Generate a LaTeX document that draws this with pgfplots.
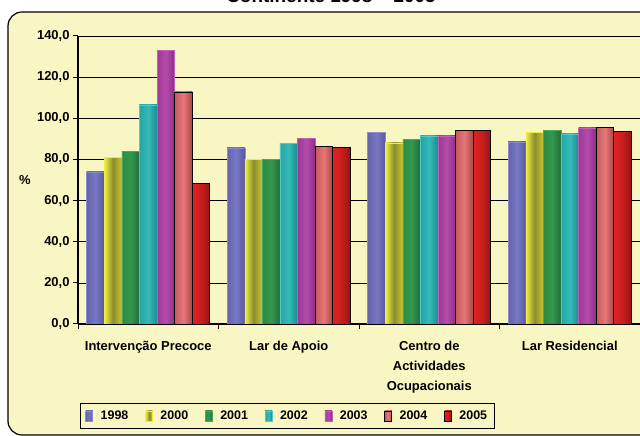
\documentclass[border=0pt]{standalone}
\usepackage{pgfplots}
\pgfplotsset{compat=1.18}
\usepackage{fontspec}
\setmainfont{Liberation Sans}
\definecolor{cream}{HTML}{F8F6C2}
\definecolor{aL}{HTML}{6262AE}\definecolor{aM}{HTML}{7878C2}\definecolor{aR}{HTML}{5858A2}\definecolor{aD}{HTML}{8A8ACC}
\definecolor{bL}{HTML}{F2F23A}\definecolor{bM}{HTML}{8C8C32}\definecolor{bR}{HTML}{C8C82C}\definecolor{bD}{HTML}{EEEE40}
\definecolor{cL}{HTML}{2C8A44}\definecolor{cM}{HTML}{34984E}\definecolor{cR}{HTML}{226C36}\definecolor{cD}{HTML}{48A860}
\definecolor{dL}{HTML}{26A4A4}\definecolor{dM}{HTML}{34BABA}\definecolor{dR}{HTML}{1C8C8C}\definecolor{dD}{HTML}{50C8C8}
\definecolor{eL}{HTML}{A03898}\definecolor{eM}{HTML}{B44CAC}\definecolor{eR}{HTML}{8E2C86}\definecolor{eD}{HTML}{C060B8}
\definecolor{fL}{HTML}{C45C5C}\definecolor{fM}{HTML}{E87676}\definecolor{fR}{HTML}{A44848}
\definecolor{gL}{HTML}{E02222}\definecolor{gM}{HTML}{C81E1E}\definecolor{gR}{HTML}{961414}
\newcommand\lbl{\fontsize{13}{20}\selectfont\bfseries}
\newcommand\lgd{\fontsize{12.5}{14}\selectfont\bfseries}
\pgfplotsset{
  mylegend/.style={legend image code/.code={\draw[##1] (0bp,-5bp) rectangle (7bp,5bp);}},
  sA/.style={mylegend, draw=aD, left color=aL, right color=aR, middle color=aM, bar shift=-52.8bp},
  sB/.style={mylegend, draw=bD, left color=bL, right color=bR, middle color=bM, bar shift=-35.2bp},
  sC/.style={mylegend, draw=cD, left color=cL, right color=cR, middle color=cM, bar shift=-17.6bp},
  sD/.style={mylegend, draw=dD, left color=dL, right color=dR, middle color=dM, bar shift=0bp},
  sE/.style={mylegend, draw=eD, left color=eL, right color=eR, middle color=eM, bar shift=17.6bp},
  sF/.style={mylegend, draw=black, line width=0.8bp, left color=fL, right color=fR, middle color=fM, bar shift=35.2bp},
  sG/.style={mylegend, draw=black, line width=0.8bp, left color=gL, right color=gR, middle color=gM, bar shift=52.8bp},
}
\begin{document}
\begin{tikzpicture}[x=1bp,y=1bp]
\useasboundingbox (0,0) rectangle (640,436);
\fill[white] (0,0) rectangle (640,436);
\draw[fill=cream, line width=1.2bp, rounded corners=14bp] (8,1) rectangle (660,424);
\node[font=\fontsize{19}{22}\selectfont\bfseries, anchor=base] at (331,433.5) {Continente 1998 – 2005};
\node[font=\lbl] at (25,256) {\%};
\begin{axis}[
  at={(78bp,112bp)}, anchor=south west,
  scale only axis, width=562bp, height=288bp,
  xmin=-0.5, xmax=3.5, ymin=0, ymax=140,
  ybar=0pt, bar width=17.6bp,
  axis lines*=left,
  axis line style={black, line width=1.3bp},
  ytick={0,20,...,140},
  ymajorgrids, grid style={black, line width=0.7bp},
  tick align=outside, major tick length=5bp, minor tick length=5bp,
  tick style={black, line width=1bp},
  /pgf/number format/assume math mode=true,
  yticklabel style={font=\lbl, /pgf/number format/.cd, fixed, fixed zerofill, precision=1, use comma},
  xtick={0,1,2,3},
  xticklabels={Intervenção Precoce, Lar de Apoio, Centro de\\Actividades\\Ocupacionais, Lar Residencial},
  xticklabel style={font=\lbl, align=center, yshift=-9bp},
  major x tick style={draw=none},
  minor xtick={-0.5,0.5,1.5,2.5,3.5},
  legend columns=7,
  legend style={draw=black, line width=0.8bp, fill=cream, font=\lgd, inner ysep=5.5bp, inner xsep=5bp,
    at={(axis description cs:0,0)}, anchor=north west, xshift=2bp, yshift=-79bp,
    /tikz/every odd column/.append style={column sep=5.5bp},
    /tikz/every even column/.append style={column sep=14.8bp}},
]
\addplot[sA] coordinates {(0,74.0)};
\addplot[sA, forget plot] coordinates {(1,85.6)};
\addplot[sA, forget plot] coordinates {(2,93.0)};
\addplot[sA, forget plot] coordinates {(3,88.6)};
\addplot[sB] coordinates {(0,80.9)};
\addplot[sB, forget plot] coordinates {(1,80.0)};
\addplot[sB, forget plot] coordinates {(2,88.0)};
\addplot[sB, forget plot] coordinates {(3,93.3)};
\addplot[sC] coordinates {(0,83.8)};
\addplot[sC, forget plot] coordinates {(1,80.2)};
\addplot[sC, forget plot] coordinates {(2,89.8)};
\addplot[sC, forget plot] coordinates {(3,94.1)};
\addplot[sD] coordinates {(0,106.5)};
\addplot[sD, forget plot] coordinates {(1,87.8)};
\addplot[sD, forget plot] coordinates {(2,91.5)};
\addplot[sD, forget plot] coordinates {(3,92.4)};
\addplot[sE] coordinates {(0,132.9)};
\addplot[sE, forget plot] coordinates {(1,90.4)};
\addplot[sE, forget plot] coordinates {(2,91.5)};
\addplot[sE, forget plot] coordinates {(3,95.3)};
\addplot[sF] coordinates {(0,112.8)};
\addplot[sF, forget plot] coordinates {(1,86.4)};
\addplot[sF, forget plot] coordinates {(2,94.1)};
\addplot[sF, forget plot] coordinates {(3,95.4)};
\addplot[sG] coordinates {(0,68.4)};
\addplot[sG, forget plot] coordinates {(1,85.9)};
\addplot[sG, forget plot] coordinates {(2,94.1)};
\addplot[sG, forget plot] coordinates {(3,93.7)};
\legend{1998,2000,2001,2002,2003,2004,2005}
\end{axis}
\end{tikzpicture}
\end{document}
